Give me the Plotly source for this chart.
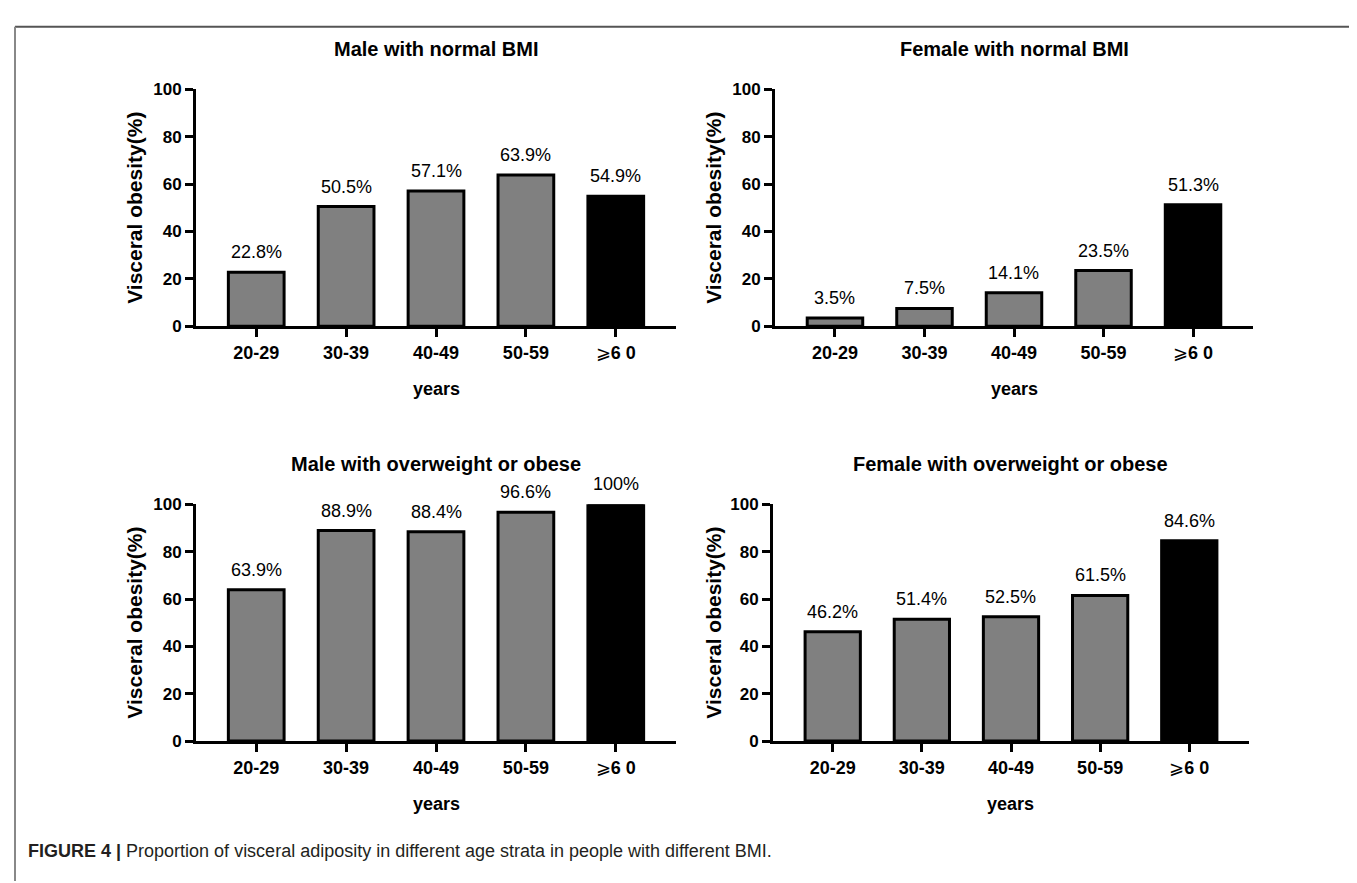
import plotly.graph_objects as go

W, H = 1357, 883

categories = ["20-29", "30-39", "40-49", "50-59", "≥60"]
tick_labels = ["<b>20-29</b>", "<b>30-39</b>", "<b>40-49</b>", "<b>50-59</b>", "⩾<b>6 0</b>"]

male_normal = [22.8, 50.5, 57.1, 63.9, 54.9]
female_normal = [3.5, 7.5, 14.1, 23.5, 51.3]
male_over = [63.9, 88.9, 88.4, 96.6, 100]
female_over = [46.2, 51.4, 52.5, 61.5, 84.6]

bar_colors = ["#808080", "#808080", "#808080", "#808080", "#000000"]
y_ticks = [0, 20, 40, 60, 80, 100]

panels = [
    dict(title="Male with normal BMI", values=male_normal, px=(188, 668), py=(74, 316), ytx=127),
    dict(title="Female with normal BMI", values=female_normal, px=(767, 1245), py=(74, 316), ytx=706),
    dict(title="Male with overweight or obese", values=male_over, px=(188, 668), py=(498, 740), ytx=127),
    dict(title="Female with overweight or obese", values=female_over, px=(765, 1241), py=(498, 740), ytx=706),
]

FONT = "Liberation Sans, Arial, sans-serif"

fig = go.Figure()
annotations = []
shapes = []
layout_axes = {}


def fx(p):
    return p / W


def fy(p):
    return 1 - p / H


for i, p in enumerate(panels):
    n = i + 1
    xa = "x" if n == 1 else f"x{n}"
    ya = "y" if n == 1 else f"y{n}"
    fig.add_trace(go.Bar(
        x=categories, y=p["values"], xaxis=xa, yaxis=ya,
        marker=dict(color=bar_colors, line=dict(color="black", width=3)),
        width=0.62, showlegend=False, hoverinfo="x+y",
    ))
    x0, x1 = p["px"]
    ytop, ybot = p["py"]
    layout_axes[f"xaxis{'' if n == 1 else n}"] = dict(
        domain=[fx(x0), fx(x1)], anchor=ya, type="category",
        range=[-0.67, 4.67], showline=True, linewidth=3, linecolor="black",
        ticks="outside", ticklen=8, tickwidth=3, tickcolor="black",
        tickvals=categories, ticktext=tick_labels, showgrid=False, zeroline=False,
        tickfont=dict(family=FONT, size=18, color="black"),
    )
    layout_axes[f"yaxis{'' if n == 1 else n}"] = dict(
        domain=[fy(ybot), fy(ytop)], anchor=xa, range=[0, 100],
        showline=True, linewidth=3, linecolor="black",
        ticks="outside", ticklen=8, tickwidth=3, tickcolor="black",
        tickvals=y_ticks, ticktext=[f"<b>{t}</b>" for t in y_ticks],
        showgrid=False, zeroline=False,
        tickfont=dict(family=FONT, size=17, color="black"),
    )
    # data labels
    for c, v in zip(categories, p["values"]):
        annotations.append(dict(
            x=c, y=v, xref=xa, yref=ya, text=f"{v:g}%", showarrow=False,
            yanchor="bottom", yshift=8,
            font=dict(family=FONT, size=18, color="black"),
        ))
    # panel title
    annotations.append(dict(
        x=fx((x0 + x1) / 2), y=fy(ytop - 41), xref="paper", yref="paper",
        text=f"<b>{p['title']}</b>", showarrow=False,
        xanchor="center", yanchor="middle",
        font=dict(family=FONT, size=20, color="black"),
    ))
    # x title
    annotations.append(dict(
        x=fx((x0 + x1) / 2), y=fy(ybot + 64), xref="paper", yref="paper",
        text="<b>years</b>", showarrow=False, xanchor="center", yanchor="middle",
        font=dict(family=FONT, size=18, color="black"),
    ))
    # y title
    annotations.append(dict(
        x=fx(p["ytx"]), y=fy((ytop + ybot) / 2), xref="paper", yref="paper",
        text="<b>Visceral obesity(%)</b>", showarrow=False, textangle=-90,
        xanchor="center", yanchor="middle",
        font=dict(family=FONT, size=21, color="black"),
    ))

# caption
annotations.append(dict(
    x=fx(18), y=fy(852), xref="paper", yref="paper",
    text="<b>FIGURE 4 |</b> Proportion of visceral adiposity in different age strata in people with different BMI.",
    showarrow=False, xanchor="left", yanchor="middle",
    font=dict(family=FONT, size=18, color="#231f20"),
))

# frame lines
shapes.append(dict(type="line", xref="paper", yref="paper", x0=fx(7), x1=fx(1354),
                   y0=fy(10), y1=fy(10), line=dict(color="#555555", width=2)))
shapes.append(dict(type="line", xref="paper", yref="paper", x0=fx(7), x1=fx(7),
                   y0=fy(10), y1=0, line=dict(color="#888888", width=2)))
shapes.append(dict(type="line", xref="paper", yref="paper", x0=fx(1354), x1=fx(1354),
                   y0=fy(10), y1=0, line=dict(color="#888888", width=2)))

fig.update_layout(
    width=W, height=H, margin=dict(l=0, r=0, t=0, b=0),
    paper_bgcolor="white", plot_bgcolor="white",
    annotations=annotations, shapes=shapes, bargap=0.3,
    **layout_axes,
)

fig.write_html("out.html")
